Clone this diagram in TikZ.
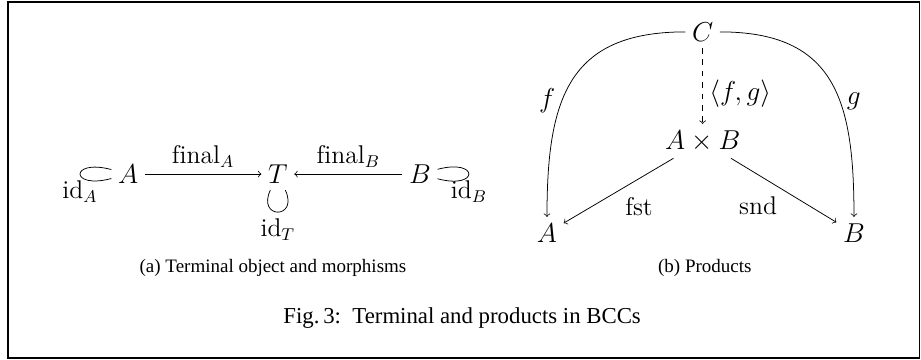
\documentclass[tikz,border=0pt]{standalone}
\usepackage{fontspec}
\newfontfamily\capfont{Liberation Serif}
\begin{document}
\begin{tikzpicture}[>=to, every node/.style={font=\fontsize{13.5}{16}\selectfont}]
  \tikzset{
    capnode/.style={font=\capfont},
    idloop/.style={min distance=8mm},
  }
  % Frame
  \useasboundingbox (0,0) rectangle (17.04,6.66);
  \draw[line width=0.9pt] (0.15,0.04) rectangle (17.01,6.62);

  % (a) terminal object T
  \node (tA) at (2.37,3.44) {$A$};
  \node (tT) at (5.14,3.44) {$T$};
  \node (tB) at (7.77,3.44) {$B$};
  \draw[->] (tA) -- node[above] {$\mathrm{final}_A$} (tT);
  \draw[->] (tB) -- node[above] {$\mathrm{final}_B$} (tT);

  % identity loops
  \draw (tA) to[loop left, idloop] node[below] {$\mathrm{id}_A$} (tA);
  \draw (tT) to[loop below, min distance=6mm, out=-65, in=-115] node[below] {$\mathrm{id}_T$} (tT);
  \draw (tB) to[loop right, idloop] node[below] {$\mathrm{id}_B$} (tB);

  % (b) products
  \node (C)   at (13.00,6.07) {$C$};
  \node (AxB) at (13.00,4.05) {$A \times B$};
  \node (pA)  at (10.12,2.35) {$A$};
  \node (pB)  at (15.80,2.35) {$B$};
  \draw[->, dashed] (C) -- node[right, pos=0.6] {$\langle f, g\rangle$} (AxB);
  \draw[->] (C) to[out=180, in=90, looseness=1.3] node[pos=0.6, left] {$f$} (pA);
  \draw[->] (C) to[out=0, in=90, looseness=1.3] node[pos=0.6, right] {$g$} (pB);
  \draw[->] (AxB) -- node[below right] {$\mathrm{fst}$} (pA);
  \draw[->] (AxB) -- node[below left] {$\mathrm{snd}$} (pB);

  % Captions
  \node[capnode] (capA) at (5.05,1.70) {(a) Terminal object and morphisms};
  \node[capnode] (capB) at (13.04,1.70) {(b) Products};
  \node[capnode, font=\capfont\large] (capFig) at (8.55,0.78) {Fig.\,3:~~Terminal and products in BCCs};
\end{tikzpicture}
\end{document}
